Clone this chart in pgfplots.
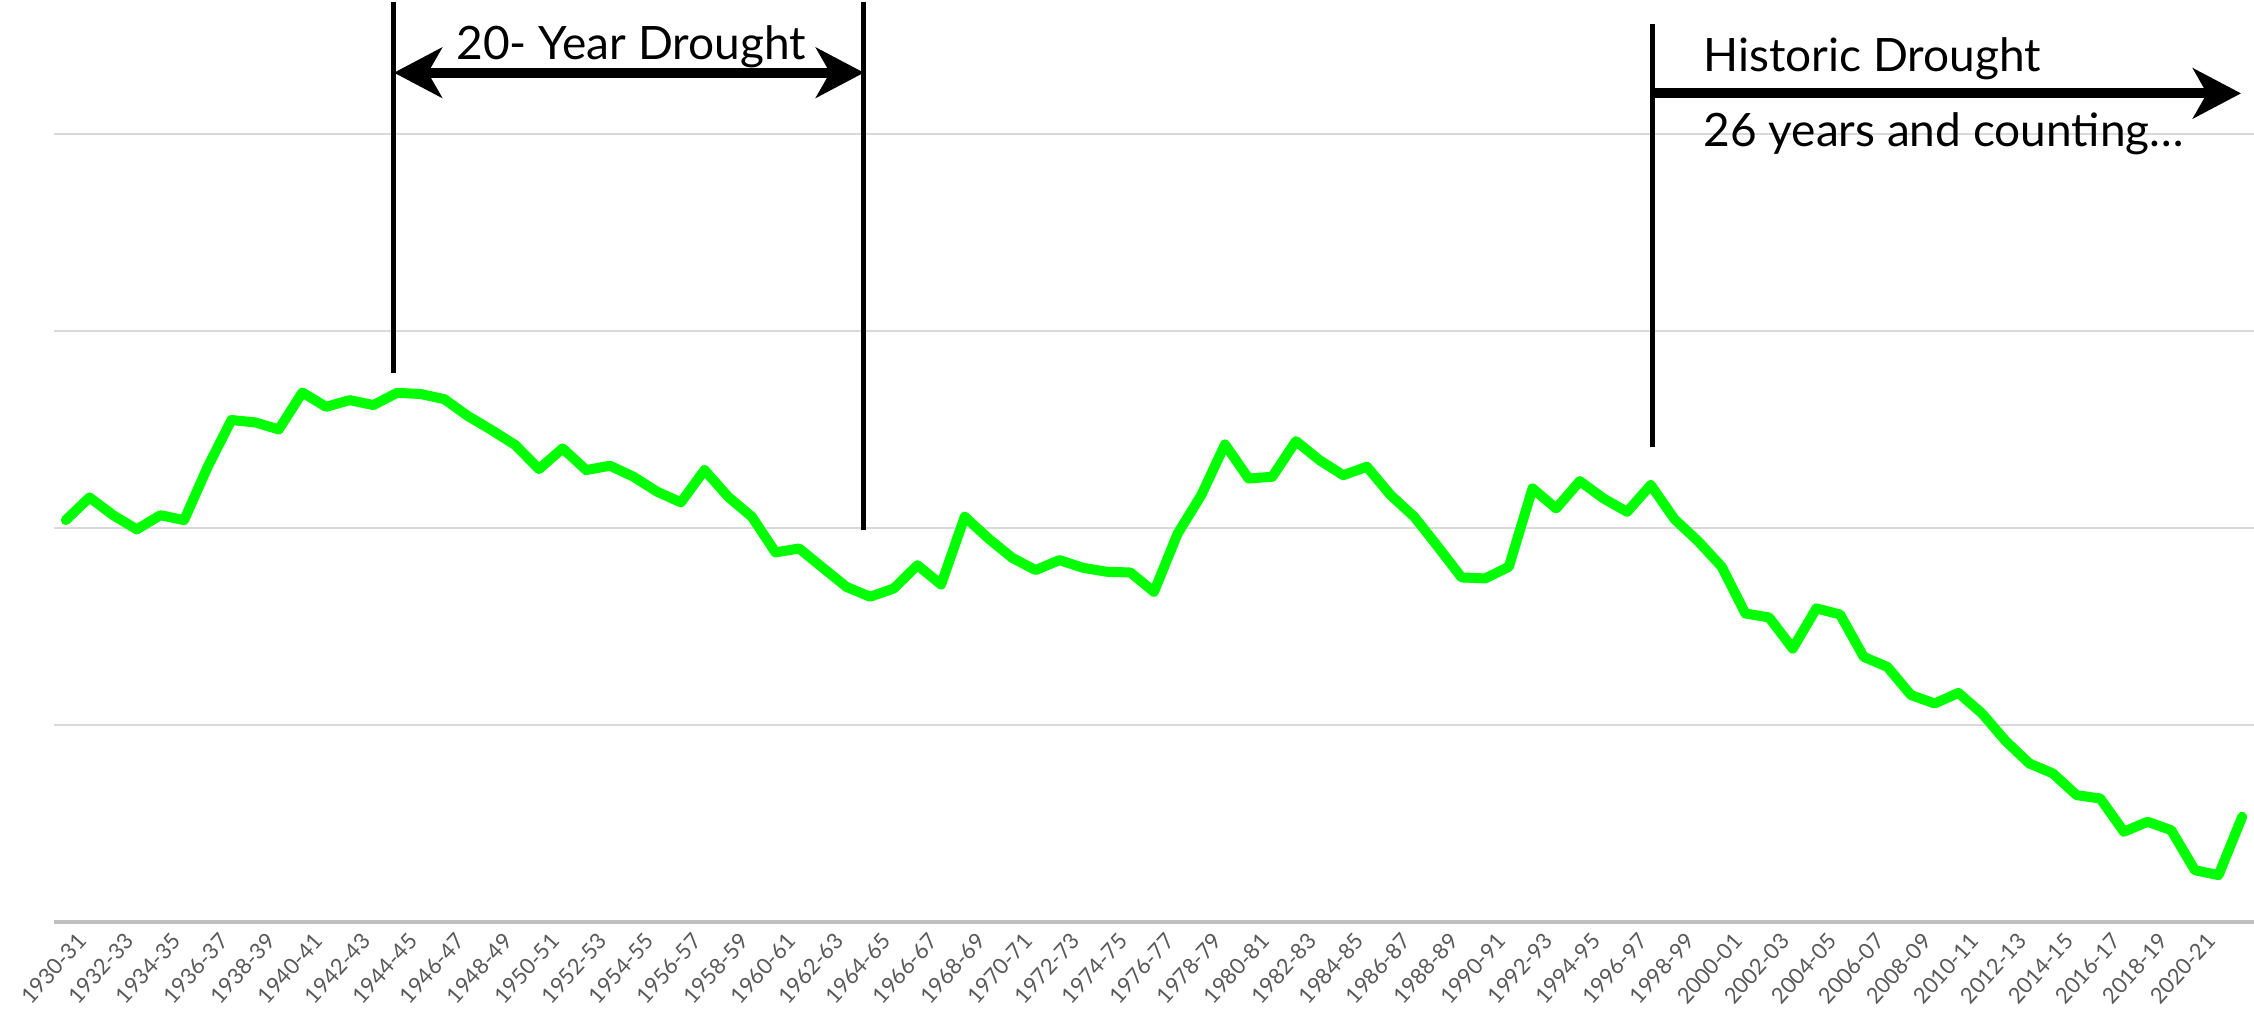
\documentclass[border=0pt]{standalone}
\usepackage{pgfplots}
\pgfplotsset{compat=1.18}
\usepackage{fontspec}
\setmainfont{Lato}
\usetikzlibrary{arrows.meta}
\definecolor{linegreen}{HTML}{00FF00}
\definecolor{gridgray}{HTML}{D9D9D9}
\definecolor{axisgray}{HTML}{BFBFBF}
\definecolor{labelgray}{HTML}{595959}
\begin{document}
\begin{tikzpicture}
\begin{axis}[
  scale only axis, width=1100pt, height=394pt,
  xmin=-0.5, xmax=92.5, ymin=0, ymax=4,
  clip=false,
  axis x line*=bottom, axis y line*=left,
  x axis line style={draw=axisgray, line width=2pt},
  y axis line style={draw=none},
  ytick={1,2,3,4}, yticklabels={},
  ymajorgrids, grid style={draw=gridgray, line width=0.75pt},
  major tick length=0pt,
  xtick={0,2,...,90},
  xticklabels={1930-31,1932-33,1934-35,1936-37,1938-39,1940-41,1942-43,1944-45,1946-47,1948-49,1950-51,1952-53,1954-55,1956-57,1958-59,1960-61,1962-63,1964-65,1966-67,1968-69,1970-71,1972-73,1974-75,1976-77,1978-79,1980-81,1982-83,1984-85,1986-87,1988-89,1990-91,1992-93,1994-95,1996-97,1998-99,2000-01,2002-03,2004-05,2006-07,2008-09,2010-11,2012-13,2014-15,2016-17,2018-19,2020-21},
  xticklabel style={rotate=48, anchor=east, inner sep=1pt, font=\fontsize{11}{13}\selectfont, text=labelgray, yshift=-11pt, xshift=1pt},
]
\addplot[linegreen, line width=5pt, line join=round, line cap=round] table[x=i, y=v] {
i v
0 2.039
1 2.154
2 2.064
3 1.992
4 2.064
5 2.039
6 2.310
7 2.547
8 2.535
9 2.499
10 2.687
11 2.614
12 2.648
13 2.623
14 2.685
15 2.679
16 2.653
17 2.567
18 2.496
19 2.420
20 2.298
21 2.403
22 2.293
23 2.315
24 2.259
25 2.183
26 2.129
27 2.293
28 2.157
29 2.056
30 1.875
31 1.895
32 1.797
33 1.700
34 1.650
35 1.692
36 1.810
37 1.712
38 2.056
39 1.946
40 1.848
41 1.785
42 1.836
43 1.797
44 1.777
45 1.773
46 1.675
47 1.971
48 2.166
49 2.423
50 2.250
51 2.259
52 2.440
53 2.343
54 2.267
55 2.310
56 2.166
57 2.056
58 1.904
59 1.748
60 1.743
61 1.802
62 2.200
63 2.098
64 2.237
65 2.149
66 2.081
67 2.217
68 2.044
69 1.932
70 1.802
71 1.565
72 1.545
73 1.387
74 1.591
75 1.560
76 1.345
77 1.294
78 1.151
79 1.108
80 1.162
81 1.058
82 0.918
83 0.804
84 0.753
85 0.643
86 0.626
87 0.457
88 0.508
89 0.465
90 0.262
91 0.237
92 0.533
};
\draw[line width=2.5pt] (axis cs:13.87,2.785) -- (axis cs:13.87,4.67);
\draw[line width=2.5pt] (axis cs:33.74,1.988) -- (axis cs:33.74,4.67);
\draw[line width=2.5pt] (axis cs:67.09,2.411) -- (axis cs:67.09,4.557);
\draw[line width=5pt, {Stealth[length=24pt,width=25pt,inset=7pt]}-{Stealth[length=24pt,width=25pt,inset=7pt]}] (axis cs:13.87,4.31) -- (axis cs:33.74,4.31);
\draw[line width=5pt, -{Stealth[length=24pt,width=25pt,inset=7pt]}] (axis cs:67.09,4.205) -- (axis cs:91.95,4.205);
\node[anchor=base, inner sep=0pt, font=\fontsize{23}{27}\selectfont] at (axis cs:23.9,4.379) {20- Year Drought};
\node[anchor=base west, inner sep=0pt, font=\fontsize{23}{27}\selectfont] at (axis cs:69.21,4.315) {Historic Drought};
\node[anchor=base west, inner sep=0pt, font=\fontsize{23}{27}\selectfont] at (axis cs:69.21,3.934) {26 years and counting…};
\coordinate (bbl) at (axis cs:-2.783,-0.453);
\coordinate (btr) at (axis cs:92.5,4.679);
\end{axis}
\pgfresetboundingbox
\useasboundingbox (bbl) rectangle (btr);
\end{tikzpicture}
\end{document}
